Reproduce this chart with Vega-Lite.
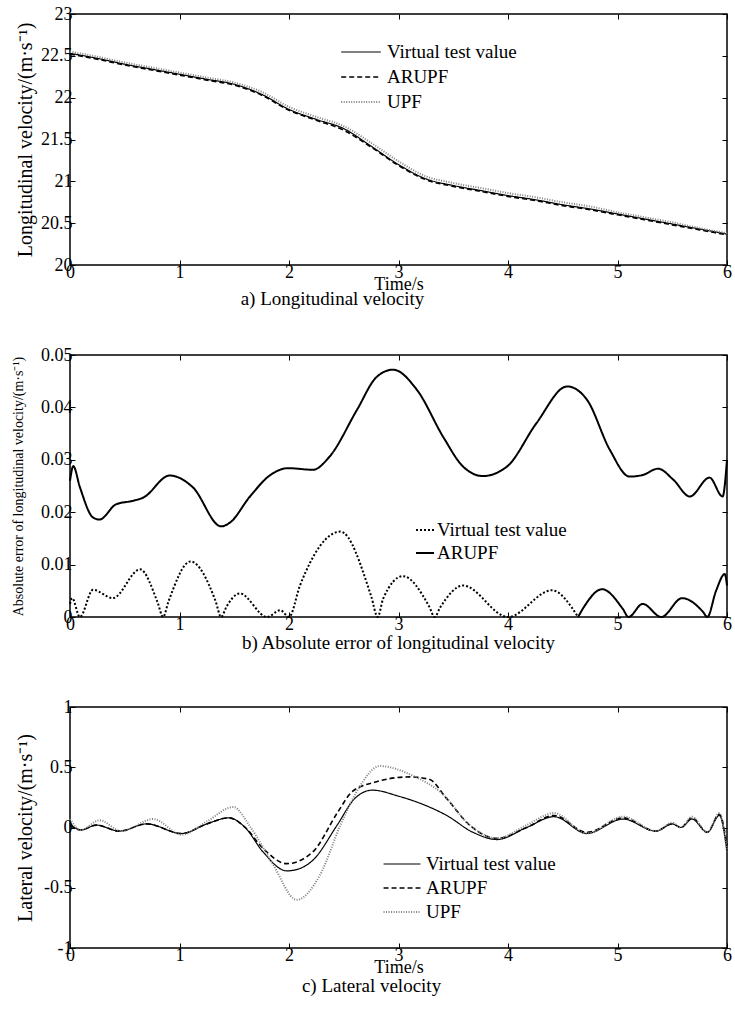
{
  "$schema": "https://vega.github.io/schema/vega-lite/v6.json",
  "padding": {"left": 10, "top": 4, "right": 6, "bottom": 5},
  "spacing": 90,
  "bounds": "flush",
  "datasets": {
    "a": [
      {"t":0,"v":22.53,"s":"Virtual test value"},{"t":0.25,"v":22.47,"s":"Virtual test value"},{"t":0.5,"v":22.40,"s":"Virtual test value"},{"t":0.75,"v":22.34,"s":"Virtual test value"},{"t":1.0,"v":22.28,"s":"Virtual test value"},{"t":1.25,"v":22.22,"s":"Virtual test value"},{"t":1.5,"v":22.16,"s":"Virtual test value"},{"t":1.75,"v":22.04,"s":"Virtual test value"},{"t":2.0,"v":21.86,"s":"Virtual test value"},{"t":2.25,"v":21.74,"s":"Virtual test value"},{"t":2.5,"v":21.63,"s":"Virtual test value"},{"t":2.75,"v":21.42,"s":"Virtual test value"},{"t":3.0,"v":21.2,"s":"Virtual test value"},{"t":3.25,"v":21.03,"s":"Virtual test value"},{"t":3.5,"v":20.95,"s":"Virtual test value"},{"t":3.75,"v":20.89,"s":"Virtual test value"},{"t":4.0,"v":20.83,"s":"Virtual test value"},{"t":4.25,"v":20.78,"s":"Virtual test value"},{"t":4.5,"v":20.72,"s":"Virtual test value"},{"t":4.75,"v":20.67,"s":"Virtual test value"},{"t":5.0,"v":20.61,"s":"Virtual test value"},{"t":5.25,"v":20.55,"s":"Virtual test value"},{"t":5.5,"v":20.49,"s":"Virtual test value"},{"t":5.75,"v":20.43,"s":"Virtual test value"},{"t":6.0,"v":20.37,"s":"Virtual test value"},
      {"t":0,"v":22.52,"s":"ARUPF"},{"t":0.25,"v":22.46,"s":"ARUPF"},{"t":0.5,"v":22.39,"s":"ARUPF"},{"t":0.75,"v":22.33,"s":"ARUPF"},{"t":1.0,"v":22.27,"s":"ARUPF"},{"t":1.25,"v":22.21,"s":"ARUPF"},{"t":1.5,"v":22.15,"s":"ARUPF"},{"t":1.75,"v":22.03,"s":"ARUPF"},{"t":2.0,"v":21.85,"s":"ARUPF"},{"t":2.25,"v":21.73,"s":"ARUPF"},{"t":2.5,"v":21.61,"s":"ARUPF"},{"t":2.75,"v":21.41,"s":"ARUPF"},{"t":3.0,"v":21.19,"s":"ARUPF"},{"t":3.25,"v":21.02,"s":"ARUPF"},{"t":3.5,"v":20.94,"s":"ARUPF"},{"t":3.75,"v":20.88,"s":"ARUPF"},{"t":4.0,"v":20.82,"s":"ARUPF"},{"t":4.25,"v":20.77,"s":"ARUPF"},{"t":4.5,"v":20.71,"s":"ARUPF"},{"t":4.75,"v":20.66,"s":"ARUPF"},{"t":5.0,"v":20.60,"s":"ARUPF"},{"t":5.25,"v":20.54,"s":"ARUPF"},{"t":5.5,"v":20.48,"s":"ARUPF"},{"t":5.75,"v":20.42,"s":"ARUPF"},{"t":6.0,"v":20.36,"s":"ARUPF"},
      {"t":0,"v":22.55,"s":"UPF"},{"t":0.25,"v":22.49,"s":"UPF"},{"t":0.5,"v":22.42,"s":"UPF"},{"t":0.75,"v":22.36,"s":"UPF"},{"t":1.0,"v":22.30,"s":"UPF"},{"t":1.25,"v":22.24,"s":"UPF"},{"t":1.5,"v":22.18,"s":"UPF"},{"t":1.75,"v":22.07,"s":"UPF"},{"t":2.0,"v":21.89,"s":"UPF"},{"t":2.25,"v":21.77,"s":"UPF"},{"t":2.5,"v":21.66,"s":"UPF"},{"t":2.75,"v":21.46,"s":"UPF"},{"t":3.0,"v":21.24,"s":"UPF"},{"t":3.25,"v":21.06,"s":"UPF"},{"t":3.5,"v":20.98,"s":"UPF"},{"t":3.75,"v":20.92,"s":"UPF"},{"t":4.0,"v":20.86,"s":"UPF"},{"t":4.25,"v":20.81,"s":"UPF"},{"t":4.5,"v":20.75,"s":"UPF"},{"t":4.75,"v":20.70,"s":"UPF"},{"t":5.0,"v":20.63,"s":"UPF"},{"t":5.25,"v":20.57,"s":"UPF"},{"t":5.5,"v":20.51,"s":"UPF"},{"t":5.75,"v":20.44,"s":"UPF"},{"t":6.0,"v":20.38,"s":"UPF"}
    ],
    "b": [
      {"t":0,"v":0.026,"s":"ARUPF"},{"t":0.03,"v":0.0288,"s":"ARUPF"},{"t":0.09,"v":0.0248,"s":"ARUPF"},{"t":0.21,"v":0.0190,"s":"ARUPF"},{"t":0.27,"v":0.0186,"s":"ARUPF"},{"t":0.42,"v":0.0215,"s":"ARUPF"},{"t":0.58,"v":0.0222,"s":"ARUPF"},{"t":0.67,"v":0.0228,"s":"ARUPF"},{"t":0.91,"v":0.0270,"s":"ARUPF"},{"t":1.12,"v":0.0248,"s":"ARUPF"},{"t":1.38,"v":0.0173,"s":"ARUPF"},{"t":1.46,"v":0.0180,"s":"ARUPF"},{"t":1.64,"v":0.0229,"s":"ARUPF"},{"t":1.83,"v":0.0271,"s":"ARUPF"},{"t":1.99,"v":0.0284,"s":"ARUPF"},{"t":2.22,"v":0.0281,"s":"ARUPF"},{"t":2.37,"v":0.0306,"s":"ARUPF"},{"t":2.62,"v":0.0395,"s":"ARUPF"},{"t":2.8,"v":0.0458,"s":"ARUPF"},{"t":2.95,"v":0.0472,"s":"ARUPF"},{"t":3.17,"v":0.0433,"s":"ARUPF"},{"t":3.41,"v":0.0343,"s":"ARUPF"},{"t":3.59,"v":0.0287,"s":"ARUPF"},{"t":3.77,"v":0.0269,"s":"ARUPF"},{"t":3.99,"v":0.0287,"s":"ARUPF"},{"t":4.26,"v":0.037,"s":"ARUPF"},{"t":4.54,"v":0.0440,"s":"ARUPF"},{"t":4.72,"v":0.0415,"s":"ARUPF"},{"t":4.93,"v":0.0319,"s":"ARUPF"},{"t":5.11,"v":0.0268,"s":"ARUPF"},{"t":5.23,"v":0.0271,"s":"ARUPF"},{"t":5.37,"v":0.0283,"s":"ARUPF"},{"t":5.51,"v":0.0262,"s":"ARUPF"},{"t":5.66,"v":0.0230,"s":"ARUPF"},{"t":5.84,"v":0.0266,"s":"ARUPF"},{"t":5.96,"v":0.0230,"s":"ARUPF"},{"t":6.0,"v":0.030,"s":"ARUPF"},
      {"t":0,"v":0.0025,"s":"Virtual test value"},{"t":0.02,"v":0.0036,"s":"Virtual test value"},{"t":0.09,"v":0,"s":"Virtual test value"},{"t":0.21,"v":0.0052,"s":"Virtual test value"},{"t":0.39,"v":0.0036,"s":"Virtual test value"},{"t":0.64,"v":0.0091,"s":"Virtual test value"},{"t":0.8,"v":0.0028,"s":"Virtual test value"},{"t":0.85,"v":0,"s":"Virtual test value"},{"t":0.9,"v":0.003,"s":"Virtual test value"},{"t":1.1,"v":0.0106,"s":"Virtual test value"},{"t":1.33,"v":0.003,"s":"Virtual test value"},{"t":1.38,"v":0,"s":"Virtual test value"},{"t":1.43,"v":0.002,"s":"Virtual test value"},{"t":1.55,"v":0.0045,"s":"Virtual test value"},{"t":1.8,"v":0,"s":"Virtual test value"},{"t":1.92,"v":0.0013,"s":"Virtual test value"},{"t":2.0,"v":0,"s":"Virtual test value"},{"t":2.1,"v":0.006,"s":"Virtual test value"},{"t":2.47,"v":0.0163,"s":"Virtual test value"},{"t":2.75,"v":0.004,"s":"Virtual test value"},{"t":2.81,"v":0,"s":"Virtual test value"},{"t":2.86,"v":0.0035,"s":"Virtual test value"},{"t":3.04,"v":0.0078,"s":"Virtual test value"},{"t":3.28,"v":0.002,"s":"Virtual test value"},{"t":3.33,"v":0,"s":"Virtual test value"},{"t":3.38,"v":0.0018,"s":"Virtual test value"},{"t":3.59,"v":0.006,"s":"Virtual test value"},{"t":4.0,"v":0,"s":"Virtual test value"},{"t":4.4,"v":0.0051,"s":"Virtual test value"},{"t":4.64,"v":0,"s":"Virtual test value"},
      {"t":4.64,"v":0,"s":"tail"},{"t":4.69,"v":0.0018,"s":"tail"},{"t":4.86,"v":0.0053,"s":"tail"},{"t":5.05,"v":0.0015,"s":"tail"},{"t":5.1,"v":0,"s":"tail"},{"t":5.23,"v":0.0025,"s":"tail"},{"t":5.4,"v":0,"s":"tail"},{"t":5.59,"v":0.0036,"s":"tail"},{"t":5.78,"v":0.001,"s":"tail"},{"t":5.82,"v":0,"s":"tail"},{"t":5.9,"v":0.005,"s":"tail"},{"t":5.98,"v":0.0082,"s":"tail"},{"t":6.0,"v":0.006,"s":"tail"}
    ],
    "c": [
      {"t":0,"v":0.04,"s":"Virtual test value"},{"t":0.04,"v":0.0,"s":"Virtual test value"},{"t":0.1,"v":-0.02,"s":"Virtual test value"},{"t":0.24,"v":0.02,"s":"Virtual test value"},{"t":0.45,"v":-0.03,"s":"Virtual test value"},{"t":0.7,"v":0.03,"s":"Virtual test value"},{"t":1.02,"v":-0.05,"s":"Virtual test value"},{"t":1.25,"v":0.03,"s":"Virtual test value"},{"t":1.45,"v":0.08,"s":"Virtual test value"},{"t":1.6,"v":0.0,"s":"Virtual test value"},{"t":1.76,"v":-0.2,"s":"Virtual test value"},{"t":1.98,"v":-0.36,"s":"Virtual test value"},{"t":2.1,"v":-0.34,"s":"Virtual test value"},{"t":2.22,"v":-0.27,"s":"Virtual test value"},{"t":2.44,"v":0.02,"s":"Virtual test value"},{"t":2.6,"v":0.24,"s":"Virtual test value"},{"t":2.76,"v":0.31,"s":"Virtual test value"},{"t":3.0,"v":0.26,"s":"Virtual test value"},{"t":3.2,"v":0.2,"s":"Virtual test value"},{"t":3.44,"v":0.1,"s":"Virtual test value"},{"t":3.68,"v":-0.04,"s":"Virtual test value"},{"t":3.9,"v":-0.1,"s":"Virtual test value"},{"t":4.17,"v":0.0,"s":"Virtual test value"},{"t":4.42,"v":0.09,"s":"Virtual test value"},{"t":4.72,"v":-0.05,"s":"Virtual test value"},{"t":5.05,"v":0.07,"s":"Virtual test value"},{"t":5.35,"v":-0.03,"s":"Virtual test value"},{"t":5.5,"v":0.03,"s":"Virtual test value"},{"t":5.58,"v":0.0,"s":"Virtual test value"},{"t":5.68,"v":0.07,"s":"Virtual test value"},{"t":5.82,"v":-0.04,"s":"Virtual test value"},{"t":5.93,"v":0.1,"s":"Virtual test value"},{"t":6.0,"v":-0.2,"s":"Virtual test value"},
      {"t":0,"v":0.02,"s":"ARUPF"},{"t":0.05,"v":-0.01,"s":"ARUPF"},{"t":0.1,"v":-0.02,"s":"ARUPF"},{"t":0.24,"v":0.02,"s":"ARUPF"},{"t":0.45,"v":-0.03,"s":"ARUPF"},{"t":0.7,"v":0.03,"s":"ARUPF"},{"t":1.02,"v":-0.05,"s":"ARUPF"},{"t":1.25,"v":0.03,"s":"ARUPF"},{"t":1.45,"v":0.08,"s":"ARUPF"},{"t":1.6,"v":0.0,"s":"ARUPF"},{"t":1.76,"v":-0.17,"s":"ARUPF"},{"t":1.98,"v":-0.3,"s":"ARUPF"},{"t":2.22,"v":-0.2,"s":"ARUPF"},{"t":2.44,"v":0.12,"s":"ARUPF"},{"t":2.58,"v":0.3,"s":"ARUPF"},{"t":2.8,"v":0.38,"s":"ARUPF"},{"t":3.1,"v":0.42,"s":"ARUPF"},{"t":3.28,"v":0.4,"s":"ARUPF"},{"t":3.44,"v":0.24,"s":"ARUPF"},{"t":3.65,"v":0.02,"s":"ARUPF"},{"t":3.9,"v":-0.09,"s":"ARUPF"},{"t":4.17,"v":0.0,"s":"ARUPF"},{"t":4.42,"v":0.1,"s":"ARUPF"},{"t":4.72,"v":-0.04,"s":"ARUPF"},{"t":5.05,"v":0.08,"s":"ARUPF"},{"t":5.35,"v":-0.03,"s":"ARUPF"},{"t":5.5,"v":0.03,"s":"ARUPF"},{"t":5.58,"v":0.0,"s":"ARUPF"},{"t":5.68,"v":0.08,"s":"ARUPF"},{"t":5.82,"v":-0.04,"s":"ARUPF"},{"t":5.93,"v":0.11,"s":"ARUPF"},{"t":6.0,"v":-0.15,"s":"ARUPF"},
      {"t":0,"v":0.07,"s":"UPF"},{"t":0.1,"v":-0.02,"s":"UPF"},{"t":0.27,"v":0.06,"s":"UPF"},{"t":0.47,"v":-0.03,"s":"UPF"},{"t":0.76,"v":0.07,"s":"UPF"},{"t":1.02,"v":-0.06,"s":"UPF"},{"t":1.25,"v":0.05,"s":"UPF"},{"t":1.49,"v":0.17,"s":"UPF"},{"t":1.65,"v":0.0,"s":"UPF"},{"t":1.85,"v":-0.3,"s":"UPF"},{"t":2.07,"v":-0.6,"s":"UPF"},{"t":2.28,"v":-0.4,"s":"UPF"},{"t":2.47,"v":0.02,"s":"UPF"},{"t":2.62,"v":0.3,"s":"UPF"},{"t":2.83,"v":0.51,"s":"UPF"},{"t":3.13,"v":0.43,"s":"UPF"},{"t":3.4,"v":0.28,"s":"UPF"},{"t":3.65,"v":0.02,"s":"UPF"},{"t":3.9,"v":-0.09,"s":"UPF"},{"t":4.17,"v":0.02,"s":"UPF"},{"t":4.42,"v":0.12,"s":"UPF"},{"t":4.72,"v":-0.05,"s":"UPF"},{"t":5.05,"v":0.09,"s":"UPF"},{"t":5.35,"v":-0.03,"s":"UPF"},{"t":5.5,"v":0.04,"s":"UPF"},{"t":5.58,"v":0.0,"s":"UPF"},{"t":5.68,"v":0.09,"s":"UPF"},{"t":5.82,"v":-0.04,"s":"UPF"},{"t":5.93,"v":0.12,"s":"UPF"},{"t":6.0,"v":-0.2,"s":"UPF"}
    ]
  },
  "vconcat": [
    {
      "width": 657, "height": 251,
      "data": {"name": "a"},
      "title": {"text": "a) Longitudinal velocity", "orient": "bottom", "dx": -66, "offset": -3},
      "resolve": {"axis": {"x": "independent", "y": "independent"}},
      "layer": [
        {
          "mark": {"type": "line", "interpolate": "monotone"},
          "encoding": {
            "x": {"field": "t", "type": "quantitative", "scale": {"domain": [0, 6], "nice": false},
                  "axis": {"title": "Time/s", "values": [0,1,2,3,4,5,6], "titlePadding": -6, "titleFontSize": 18}},
            "y": {"field": "v", "type": "quantitative", "scale": {"domain": [20, 23], "nice": false, "zero": false},
                  "axis": {"title": "Longitudinal velocity/(m·s⁻¹)", "values": [20,20.5,21,21.5,22,22.5,23], "titlePadding": 5}},
            "color": {"field": "s", "type": "nominal", "scale": {"domain": ["Virtual test value","ARUPF","UPF"], "range": ["#000000","#000000","#808080"]},
                      "legend": {"orient": "none", "legendX": 281, "legendY": 28, "symbolType": "M-2.2,0H2.2", "symbolSize": 324, "rowPadding": 5, "labelOffset": 16}},
            "strokeDash": {"field": "s", "type": "nominal", "scale": {"domain": ["Virtual test value","ARUPF","UPF"], "range": [[1,0],[5,3],[1,1.5]]}},
            "strokeWidth": {"field": "s", "type": "nominal", "scale": {"domain": ["Virtual test value","ARUPF","UPF"], "range": [1.2, 2, 1]}}
          }
        },
        {
          "mark": {"type": "point", "opacity": 0},
          "encoding": {
            "x": {"field": "t", "type": "quantitative", "axis": {"orient": "top", "labels": false, "title": null, "values": [0,1,2,3,4,5,6]}},
            "y": {"field": "v", "type": "quantitative", "axis": {"orient": "right", "labels": false, "title": null, "values": [20,20.5,21,21.5,22,22.5,23]}}
          }
        }
      ]
    },
    {
      "width": 657, "height": 262,
      "data": {"name": "b"},
      "title": {"text": "b) Absolute error of longitudinal velocity", "orient": "bottom", "dx": 0, "offset": 1},
      "resolve": {"axis": {"x": "independent", "y": "independent"}},
      "layer": [
        {
          "mark": {"type": "line", "interpolate": "monotone"},
          "encoding": {
            "x": {"field": "t", "type": "quantitative", "scale": {"domain": [0, 6], "nice": false},
                  "axis": {"title": null, "values": [0,1,2,3,4,5,6]}},
            "y": {"field": "v", "type": "quantitative", "scale": {"domain": [0, 0.05], "nice": false},
                  "axis": {"title": "Absolute error of longitudinal velocity/(m·s⁻¹)", "titleFontSize": 14, "values": [0,0.01,0.02,0.03,0.04,0.05], "titlePadding": 15.5}},
            "color": {"field": "s", "type": "nominal", "scale": {"domain": ["Virtual test value","ARUPF","tail"], "range": ["#000000","#000000","#000000"]},
                      "legend": {"orient": "none", "legendX": 345, "legendY": 165, "symbolType": "stroke", "symbolSize": 324, "rowPadding": 3, "labelOffset": 2, "values": ["Virtual test value","ARUPF"]}},
            "strokeDash": {"field": "s", "type": "nominal", "scale": {"domain": ["Virtual test value","ARUPF","tail"], "range": [[2,2],[1,0],[1,0]]}},
            "strokeWidth": {"field": "s", "type": "nominal", "scale": {"domain": ["Virtual test value","ARUPF","tail"], "range": [2, 2, 2]}}
          }
        },
        {
          "mark": {"type": "point", "opacity": 0},
          "encoding": {
            "x": {"field": "t", "type": "quantitative", "axis": {"orient": "top", "labels": false, "title": null, "values": [0,1,2,3,4,5,6]}},
            "y": {"field": "v", "type": "quantitative", "axis": {"orient": "right", "labels": false, "title": null, "values": [0,0.01,0.02,0.03,0.04,0.05]}}
          }
        }
      ]
    },
    {
      "width": 657, "height": 241,
      "data": {"name": "c"},
      "title": {"text": "c) Lateral velocity", "orient": "bottom", "dx": -27, "offset": 1},
      "resolve": {"axis": {"x": "independent", "y": "independent"}},
      "layer": [
        {
          "mark": {"type": "line", "interpolate": "monotone"},
          "encoding": {
            "x": {"field": "t", "type": "quantitative", "scale": {"domain": [0, 6], "nice": false},
                  "axis": {"title": "Time/s", "values": [0,1,2,3,4,5,6], "titlePadding": -6, "titleFontSize": 18}},
            "y": {"field": "v", "type": "quantitative", "scale": {"domain": [-1, 1], "nice": false},
                  "axis": {"title": "Lateral velocity/(m·s⁻¹)", "values": [-1,-0.5,0,0.5,1], "titlePadding": 8}},
            "color": {"field": "s", "type": "nominal", "scale": {"domain": ["Virtual test value","ARUPF","UPF"], "range": ["#000000","#000000","#808080"]},
                      "legend": {"orient": "none", "legendX": 322, "legendY": 147, "symbolType": "M-2.05,0H2.05", "symbolSize": 324, "rowPadding": 4, "labelOffset": 14}},
            "strokeDash": {"field": "s", "type": "nominal", "scale": {"domain": ["Virtual test value","ARUPF","UPF"], "range": [[1,0],[5,3],[1,1.5]]}},
            "strokeWidth": {"field": "s", "type": "nominal", "scale": {"domain": ["Virtual test value","ARUPF","UPF"], "range": [1.2, 2, 1]}}
          }
        },
        {
          "mark": {"type": "point", "opacity": 0},
          "encoding": {
            "x": {"field": "t", "type": "quantitative", "axis": {"orient": "top", "labels": false, "title": null, "values": [0,1,2,3,4,5,6]}},
            "y": {"field": "v", "type": "quantitative", "axis": {"orient": "right", "labels": false, "title": null, "values": [-1,-0.5,0,0.5,1]}}
          }
        }
      ]
    }
  ],
  "resolve": {
    "scale": {"x": "independent", "y": "independent", "color": "independent", "strokeDash": "independent", "strokeWidth": "independent"},
    "legend": {"color": "independent", "strokeDash": "independent", "strokeWidth": "independent"}
  },
  "config": {
    "font": "Liberation Serif",
    "view": {"stroke": "#000000", "strokeWidth": 1.5},
    "axis": {
      "labelFont": "Liberation Serif", "titleFont": "Liberation Serif",
      "labelFontSize": 18, "titleFontSize": 20, "titleFontWeight": "normal",
      "labelColor": "#000000", "titleColor": "#000000",
      "domain": false, "grid": false, "ticks": true, "tickColor": "#000000", "tickSize": -5, "tickWidth": 1,
      "labelPadding": 3, "labelExpr": "datum.value + ''", "labelFlush": false, "labelOverlap": false
    },
    "legend": {
      "title": null, "labelFont": "Liberation Serif", "labelFontSize": 19, "labelColor": "#000000",
      "padding": 0
    },
    "title": {"font": "Liberation Serif", "fontSize": 19, "fontWeight": "normal", "color": "#000000", "anchor": "middle"}
  }
}
